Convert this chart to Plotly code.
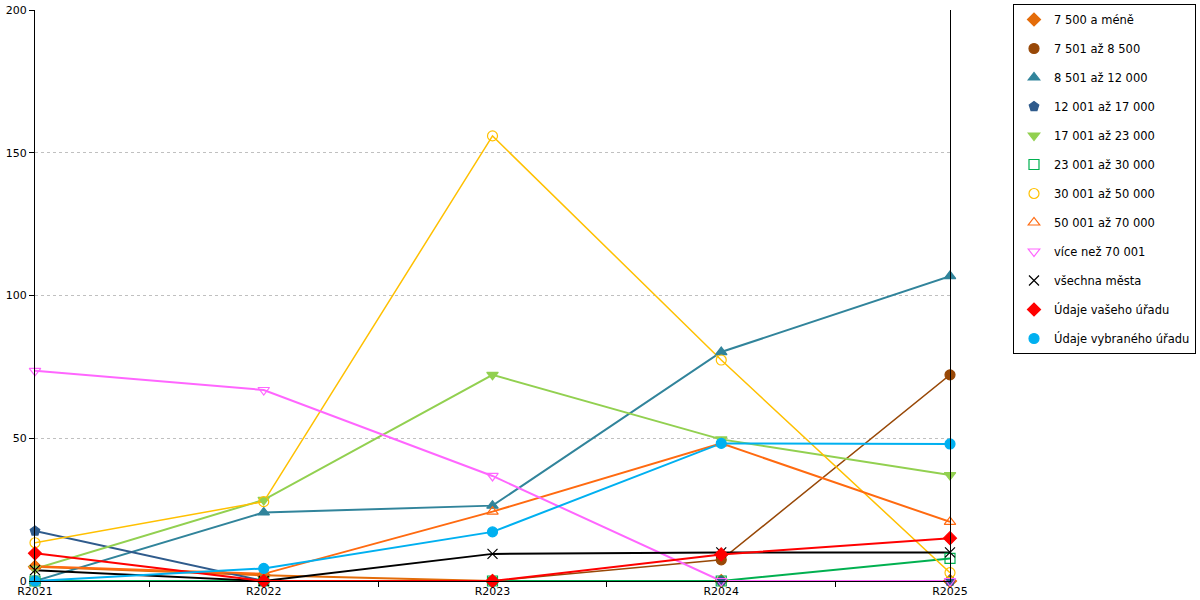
import plotly.graph_objects as go

# ─────────────────────────────────────────────
# DATA
# ─────────────────────────────────────────────
years = ["R2021", "R2022", "R2023", "R2024", "R2025"]

s_do_7500 = [5, 2, 0, 0, 0]
s_7501_8500 = [0, 0, 0, 7.4, 72.2]
s_8501_12000 = [0, 24, 26.4, 80.2, 106.8]
s_12001_17000 = [17.5, 0, 0, 0, 0]
s_17001_23000 = [4.3, 28.4, 72.2, 49.6, 37.1]
s_23001_30000 = [0, 0, 0, 0, 7.9]
s_30001_50000 = [13.4, 27.8, 155.9, 77.4, 2.9]
s_50001_70000 = [5.2, 2.5, 24.3, 48.2, 20.7]
s_nad_70001 = [73.6, 66.9, 36.8, 0, 0]
s_vsechna = [3.8, 0, 9.5, 10, 10]
s_vas_urad = [9.7, 0, 0, 9.3, 15]
s_vybrany_urad = [0, 4.4, 17.2, 48.2, 48]

series_names = [
    "7 500 a méně", "7 501 až 8 500", "8 501 až 12 000", "12 001 až 17 000",
    "17 001 až 23 000", "23 001 až 30 000", "30 001 až 50 000", "50 001 až 70 000",
    "více než 70 001", "všechna města", "Údaje vašeho úřadu", "Údaje vybraného úřadu",
]
series_values = [
    s_do_7500, s_7501_8500, s_8501_12000, s_12001_17000,
    s_17001_23000, s_23001_30000, s_30001_50000, s_50001_70000,
    s_nad_70001, s_vsechna, s_vas_urad, s_vybrany_urad,
]

# ─────────────────────────────────────────────
# STYLE
# ─────────────────────────────────────────────
colors = [
    "#E46C0A", "#984807", "#31849B", "#2F5B8C",
    "#92D050", "#00B050", "#FFC000", "#FF6A10",
    "#FF66FF", "#000000", "#FF0000", "#00B0F0",
]
symbols = [
    "diamond", "circle", "triangle-up", "pentagon",
    "triangle-down", "square-open", "circle-open", "triangle-up-open",
    "triangle-down-open", "x-thin-open", "diamond", "circle",
]
widths = [2, 1.5, 2, 2, 2, 2, 1.5, 2, 2, 2, 2, 2]

FONT = "DejaVu Sans"

W, H = 1200, 600
# plot area in pixels (as in the reference)
L, R, T, B = 35, 250, 10, 19
PW = W - L - R
PH = H - T - B

fig = go.Figure()

# lines first (no legend), markers on top
for name, vals, col, w in zip(series_names, series_values, colors, widths):
    fig.add_trace(go.Scatter(
        x=years, y=vals, mode="lines", name=name, legendgroup=name,
        showlegend=False, line=dict(color=col, width=w),
        cliponaxis=False, hoverinfo="skip",
    ))

for name, vals, col, sym in zip(series_names, series_values, colors, symbols):
    fig.add_trace(go.Scatter(
        x=years, y=vals, mode="markers", name=name, legendgroup=name,
        marker=dict(symbol=sym, size=10, color=col,
                    line=dict(color=col, width=1.2)),
        cliponaxis=False,
    ))

fig.update_layout(
    width=W,
    height=H,
    paper_bgcolor="white",
    plot_bgcolor="white",
    font=dict(family=FONT, size=11, color="#000000"),
    margin=dict(l=L, r=R, t=T, b=B, autoexpand=False),
    xaxis=dict(
        type="category",
        range=[0, 4],
        showgrid=False,
        showline=True, linecolor="#000000", linewidth=1,
        ticks="outside", ticklen=5, tickcolor="#000000",
        tickson="boundaries",
        tickfont=dict(size=11),
        zeroline=False,
        automargin=False,
    ),
    yaxis=dict(
        range=[0, 200],
        tickvals=[0, 50, 100, 150, 200],
        showgrid=True, gridcolor="#C0C0C0", griddash="dot", gridwidth=1,
        showline=True, linecolor="#000000", linewidth=1, mirror=True,
        ticks="outside", ticklen=5, tickcolor="#000000",
        tickfont=dict(size=11),
        ticklabeloverflow="allow",
        zeroline=False,
        automargin=False,
    ),
    legend=dict(
        x=(1013 - L) / PW, y=1 + (T - 4) / PH, xanchor="left", yanchor="top",
        bordercolor="#000000", borderwidth=1, bgcolor="white",
        font=dict(size=11.5),
        tracegroupgap=10,
        itemwidth=30,
        maxheight=450,
    ),
    showlegend=True,
)

# page body margin off so the figure sits at the window's corner
fig.write_html(
    "out.html",
    config={"displayModeBar": False},
    post_script="document.body.style.margin='0';",
)
